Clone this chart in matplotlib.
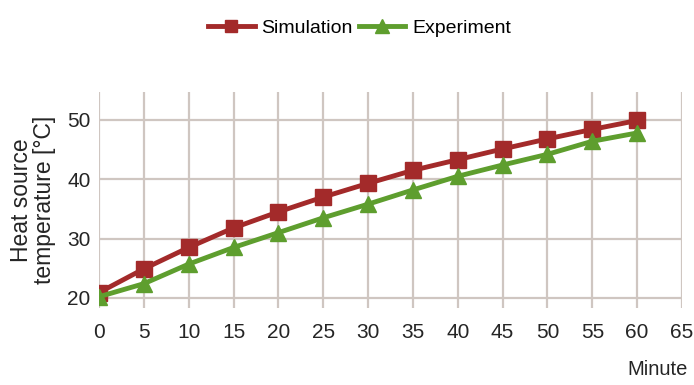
import matplotlib.pyplot as plt

plt.rcParams['font.family'] = ['Liberation Sans', 'DejaVu Sans']

# Time in minutes and heat source temperature (°C)
minutes = [0, 5, 10, 15, 20, 25, 30, 35, 40, 45, 50, 55, 60]
simulation = [20.9, 24.9, 28.5, 31.8, 34.5, 37.0, 39.3, 41.5, 43.3, 45.1, 46.8, 48.4, 49.9]
experiment = [20.2, 22.4, 25.7, 28.5, 31.0, 33.5, 35.8, 38.2, 40.5, 42.4, 44.2, 46.4, 47.8]

x_ticks = list(range(0, 70, 5))
y_ticks = [20, 30, 40, 50]

red = '#a32a2a'
green = '#5e9e2e'
grid_color = '#cfc6c1'
text_color = '#252525'

fig = plt.figure(figsize=(6.94, 3.85), dpi=100)
ax = fig.add_axes([0.1427, 0.2, 0.84, 0.561])

sim_line, = ax.plot(minutes, simulation, color=red, linewidth=3.5, marker='s',
                    markersize=11, markeredgecolor=red, markerfacecolor=red,
                    label='Simulation', zorder=3)
exp_line, = ax.plot(minutes, experiment, color=green, linewidth=3.5, marker='^',
                    markersize=12, markeredgecolor=green, markerfacecolor=green,
                    label='Experiment', zorder=4)

ax.set_xlim(0, 65)
ax.set_ylim(18.3, 54.7)
ax.set_xticks(x_ticks)
ax.set_yticks(y_ticks)

# grid drawn by hand so vertical lines run the full height, horizontal ones only at ticks
for x in x_ticks:
    ax.axvline(x, color=grid_color, linewidth=1.6, zorder=1)
for y in y_ticks:
    ax.axhline(y, color=grid_color, linewidth=1.6, zorder=1)

for s in ax.spines.values():
    s.set_visible(False)
ax.tick_params(length=0, labelsize=15, colors=text_color)
ax.tick_params(axis='x', pad=11)
ax.tick_params(axis='y', pad=6)

ax.set_ylabel('Heat source\ntemperature [°C]', fontsize=16.5, color=text_color,
              labelpad=8, linespacing=1.0)
fig.text(0.947, 0.025, 'Minute', fontsize=14.5, color=text_color, ha='center')

fig.legend(handles=[sim_line, exp_line], loc='upper center', ncol=2,
           bbox_to_anchor=(0.518, 0.995), frameon=False, fontsize=14,
           handlelength=2.4, columnspacing=0.3, handletextpad=0.35,
           markerscale=0.8)

fig.savefig('out.png', dpi=100)
